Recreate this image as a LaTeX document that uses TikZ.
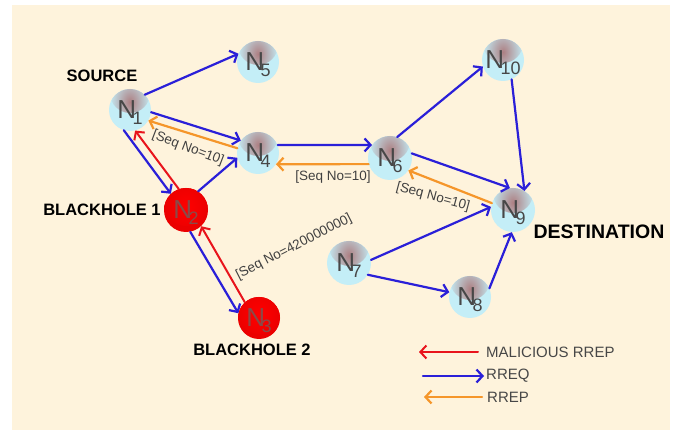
\documentclass[tikz,border=0pt]{standalone}
\usepackage{fontspec}
\setmainfont{Liberation Sans}
\usetikzlibrary{arrows.meta}
\definecolor{cream}{HTML}{FEF3DC}
\definecolor{rreqc}{HTML}{2A1FD8}
\definecolor{malc}{HTML}{E8141C}
\definecolor{rrepc}{HTML}{F5962A}
\definecolor{nodecyan}{HTML}{C4EEF7}
\definecolor{nodebrown}{HTML}{AD7F82}
\definecolor{txtgray}{HTML}{474747}
\definecolor{redtxt}{HTML}{8A4A48}
\newcommand\nlab[1]{\fontsize{26}{26}\selectfont N\kern-3.5pt\raisebox{-6pt}[0pt][0pt]{\fontsize{18}{18}\selectfont #1}}
\tikzset{
  netnode/.style={circle, inner sep=0pt, minimum size=42pt, fill=nodecyan, text=txtgray,
    path picture={\shade[inner color=nodebrown, outer color=nodecyan]
      ([yshift=17pt]path picture bounding box.center) circle (20pt);}},
  badnode/.style={circle, inner sep=0pt, minimum size=44pt, fill=red!92!black, text=redtxt,
    path picture={\shade[inner color=red, outer color=red!92!black]
      ([yshift=6pt]path picture bounding box.center) circle (22pt);}},
  arr/.style={-{Straight Barb[length=6pt,width=13pt]}, line width=2.2pt, line cap=round},
  req/.style={arr, draw=rreqc},
  rep/.style={arr, draw=rrepc},
  mal/.style={arr, draw=malc, line width=2pt},
  seqlab/.style={font=\fontsize{13.5}{14}\selectfont, text=black!75, inner sep=0pt},
  rolelab/.style={font=\fontsize{16.5}{17}\selectfont\bfseries, text=black, inner sep=0pt},
  leglab/.style={font=\fontsize{15}{15}\selectfont, text=txtgray, inner sep=0pt, anchor=west}
}
\begin{document}
\begin{tikzpicture}[x=1pt,y=-1pt]
\useasboundingbox (0,0) rectangle (681,435);
\fill[white] (0,0) rectangle (681,435);
\fill[cream] (12,5) rectangle (670,430);

% nodes
\node[netnode] (n1) at (130,110) {\nlab{1}};
\node[netnode] (n5) at (258,62) {\nlab{5}};
\node[netnode] (n4) at (258,153) {\nlab{4}};
\node[badnode] (n2) at (186,210) {\nlab{2}};
\node[badnode, minimum size=42pt] (n3) at (259,318) {\nlab{3}};
\node[netnode, minimum size=44pt] (n6) at (390,158) {\nlab{6}};
\node[netnode] (n10) at (503,60) {\nlab{10}};
\node[netnode, minimum size=44pt] (n9) at (513,210) {\nlab{9}};
\node[netnode, minimum size=44pt] (n7) at (349,263) {\nlab{7}};
\node[netnode] (n8) at (470,297) {\nlab{8}};

% role labels
\node[rolelab] (lsrc) at (102,76) {SOURCE};
\node[rolelab] (lbh1) at (102,210) {BLACKHOLE 1};
\node[rolelab] (lbh2) at (252,350) {BLACKHOLE 2};
\node[rolelab, font=\fontsize{19.5}{20}\selectfont\bfseries] (ldst) at (599,232) {DESTINATION};

% connectors
\draw[req] (n1.46) -- (n5.157);
\draw[req] (n1.-6) -- (n4.144);
\draw[rep] (n4.167) -- (n1.-30);
\node[seqlab, rotate=-21] (s14) at (188,148) {[Seq No=10]};

\draw[req] (n1.-107) -- (n2.133);
\draw[mal] (n2.109) -- (n1.-76);
\draw[req] (n2.57) -- (n4.193);

\draw[req] (n2.-79) -- (n3.167);
\draw[mal] (n3.132) -- (n2.-47);
\node[seqlab, rotate=27] (s23) at (294,247) {[Seq No=420000000]};

\draw[req] (n4.22) -- (n6.144);
\draw[rep] (n6.196) -- (n4.-32);
\node[seqlab] (s46) at (333,177) {[Seq No=10]};

\draw[req] (n6.71) -- (n10.198);
\draw[req] (n10.-66) -- (n9.59);
\draw[req] (n6.12) -- (n9.98);
\draw[rep] (n9.162) -- (n6.-34);
\node[seqlab, rotate=-15] (s69) at (433,197) {[Seq No=10]};

\draw[req] (n7.8) -- (n9.172);
\draw[req] (n7.-32) -- (n8.167);
\draw[req] (n8.24) -- (n9.267);

% legend
\node[leglab] (lmal) at (486,352) {MALICIOUS RREP};
\node[leglab] (lreq) at (486,376) {RREQ};
\node[leglab] (lrep) at (487,397) {RREP};
\coordinate (emal) at (419,352);
\coordinate (ereq) at (423,376);
\coordinate (erep) at (424,397);
\draw[mal] ([xshift=-8pt]lmal.west) -- (emal);
\draw[req] (ereq) -- ([xshift=-2pt]lreq.west);
\draw[rep] ([xshift=-5pt]lrep.west) -- (erep);
\end{tikzpicture}
\end{document}
